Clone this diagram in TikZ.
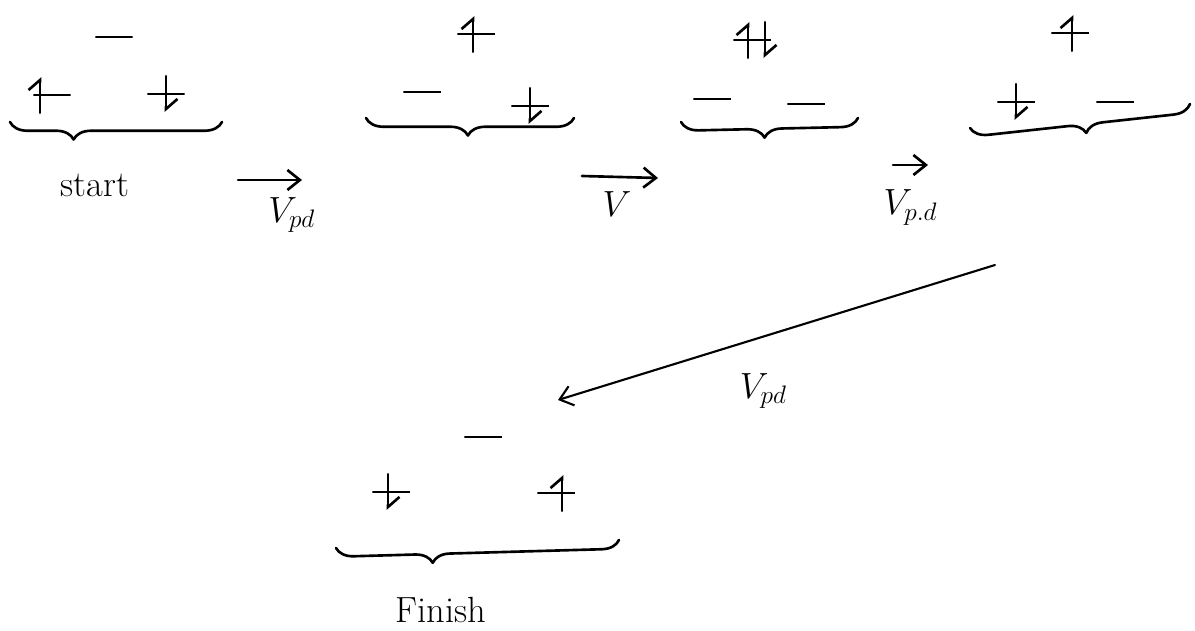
\documentclass[tikz,border=0pt]{standalone}
\usepackage{amsmath}
\usetikzlibrary{positioning, arrows.meta, decorations.pathreplacing}

\tikzset{
    orb/.style={minimum width=0.75cm, minimum height=0.7cm, inner sep=0pt,
        path picture={\draw[line width=1.5pt] (path picture bounding box.west) -- (path picture bounding box.east);}},
    spin/.style={line width=1.5pt, -{Straight Barb[left, length=0.2cm, width=0.46cm]}},
    curly/.style={line width=1.5pt, decorate, decoration={brace, mirror, amplitude=0.35cm, aspect=#1}},
    hop/.style={line width=1.5pt, -{Straight Barb[length=0.25cm, width=0.4cm]}},
    lbl/.style={font=\huge},
}

\begin{document}
\begin{tikzpicture}[x=0.02cm, y=-0.02cm, line cap=round, line join=round]
    \useasboundingbox (0,0) rectangle (1195,631);

    \node[orb] (s1t) at (114,37) {};
    \node[orb] (s1l) at (52,95) {};
    \node[orb] (s1r) at (166,94) {};
    \draw[spin] ([xshift=-0.24cm]s1l.south) -- ([xshift=-0.24cm]s1l.north);
    \draw[spin] (s1r.north) -- (s1r.south);
    \coordinate (s1a) at (10,122);
    \coordinate (s1b) at (222,122);
    \draw[curly=0.3] (s1a) -- node[pos=0.4, below=0.9cm, font=\huge] {start} (s1b);

    \node[orb] (s2t) at (476,34) {};
    \node[orb] (s2l) at (422,92) {};
    \node[orb] (s2r) at (530,106) {};
    \draw[spin] ([xshift=-0.06cm]s2t.south) -- ([xshift=-0.06cm]s2t.north);
    \draw[spin] (s2r.north) -- (s2r.south);
    \coordinate (s2a) at (366,118);
    \coordinate (s2b) at (574,118);
    \draw[curly=0.49] (s2a) -- (s2b);

    \node[orb] (s3t) at (752,40) {};
    \node[orb] (s3l) at (712,99) {};
    \node[orb] (s3r) at (806,104) {};
    \draw[spin] ([xshift=-0.08cm]s3t.south) -- ([xshift=-0.08cm]s3t.north);
    \draw[spin] ([xshift=0.26cm]s3t.north) -- ([xshift=0.26cm]s3t.south);
    \coordinate (s3a) at (681,122);
    \coordinate (s3b) at (858,118);
    \draw[curly=0.47] (s3a) -- (s3b);

    \node[orb] (s4t) at (1070,33) {};
    \node[orb] (s4l) at (1016,102) {};
    \node[orb] (s4r) at (1115,102) {};
    \draw[spin] ([xshift=0.04cm]s4t.south) -- ([xshift=0.04cm]s4t.north);
    \draw[spin] (s4l.north) -- (s4l.south);
    \coordinate (s4a) at (970,128);
    \coordinate (s4b) at (1190,104);
    \draw[curly=0.52] (s4a) -- (s4b);

    \node[orb] (ft) at (483,437) {};
    \node[orb] (fl) at (391,492) {};
    \node[orb] (fr) at (556,493) {};
    \draw[spin] ([xshift=-0.06cm]fl.north) -- ([xshift=-0.06cm]fl.south);
    \draw[spin] ([xshift=0.12cm]fr.south) -- ([xshift=0.12cm]fr.north);
    \coordinate (fa) at (336,548);
    \coordinate (fb) at (619,540);
    \draw[curly=0.34] (fa) -- node[pos=0.37, below=0.9cm, font=\huge] {Finish} (fb);

    \coordinate (h1a) at (238,180);
    \coordinate (h1b) at (302,180);
    \draw[hop] (h1a) -- node[lbl, pos=0.84, below=0.2cm] {$V_{pd}$} (h1b);
    \coordinate (h2a) at (582,176);
    \coordinate (h2b) at (658,178);
    \draw[hop] (h2a) -- node[lbl, pos=0.46, below=0.15cm] {$V$} (h2b);
    \coordinate (h3a) at (893,165);
    \coordinate (h3b) at (928,165);
    \draw[hop] (h3a) -- node[lbl, pos=0.5, below=0.35cm] {$V_{p.d}$} (h3b);
    \coordinate (h4a) at (995,265);
    \coordinate (h4b) at (558,400);
    \draw[hop, line width=1.2pt] (h4a) -- node[lbl, pos=0.53, below=0.6cm] {$V_{pd}$} (h4b);
\end{tikzpicture}
\end{document}
